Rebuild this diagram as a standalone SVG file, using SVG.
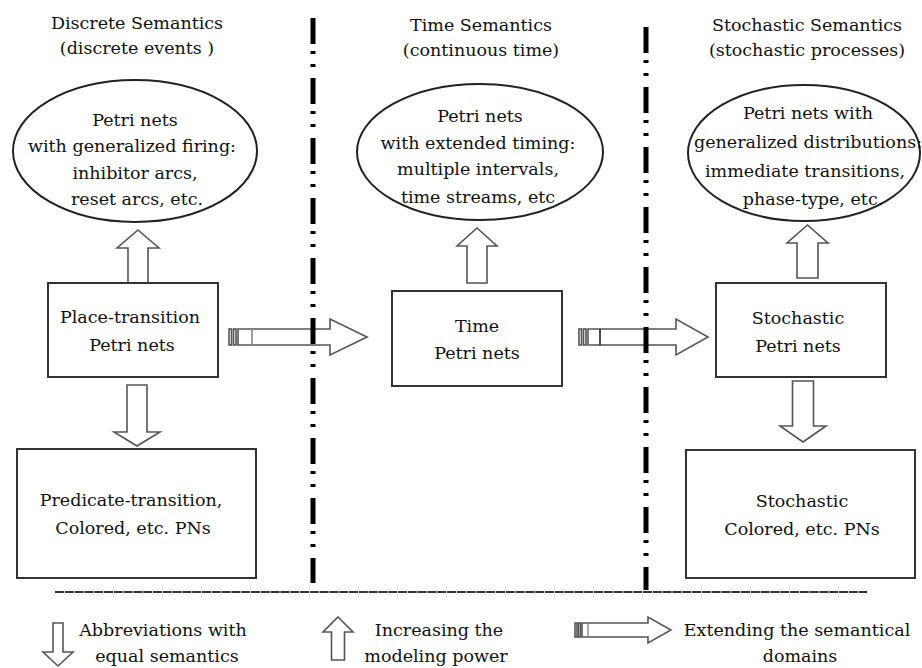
<svg xmlns="http://www.w3.org/2000/svg" width="922" height="668" viewBox="0 0 922 668">
<style>
text{font-family:"DejaVu Serif","Liberation Serif",serif;font-size:17.5px;fill:#111;text-anchor:middle}
.box{fill:#fff;stroke:#333;stroke-width:2}
.ell{fill:#fff;stroke:#222;stroke-width:2}
.blk{fill:#fff;stroke:#555;stroke-width:1.6;stroke-linejoin:miter}
.sep{stroke:#000;stroke-width:5;stroke-dasharray:26 7 3 10 3 11;fill:none}
</style>
<rect width="922" height="668" fill="#fff"/>

<g id="headers">
<text x="137" y="29">Discrete Semantics</text>
<text x="137" y="54">(discrete events )</text>
<text x="481" y="31">Time Semantics</text>
<text x="481" y="56">(continuous time)</text>
<text x="807" y="31">Stochastic Semantics</text>
<text x="807" y="56">(stochastic processes)</text>
</g>

<g id="connectors">
<path class="blk" d="M138,230 L159,248 L148,248 L148,283 L128,283 L128,248 L117,248 Z"/>
<path class="blk" d="M477,228 L497,246 L487,246 L487,283 L467,283 L467,246 L457,246 Z"/>
<path class="blk" d="M807.5,225 L828,243 L818,243 L818,278 L797,278 L797,243 L787,243 Z"/>
<path class="blk" d="M137,446 L160,432 L147,432 L147,385 L127,385 L127,432 L114,432 Z"/>
<path class="blk" d="M803,442 L826,426 L813.5,426 L813.5,381 L792.5,381 L792.5,426 L780,426 Z"/>
<g id="extend1">
<rect class="blk" x="229" y="329" width="2.5" height="16"/>
<rect class="blk" x="233.5" y="329" width="2.5" height="16"/>
<path class="blk" d="M238,329 L330,329 L330,319 L367,337 L330,355 L330,345 L238,345 Z"/>
<line x1="252" y1="329" x2="252" y2="345" stroke="#888" stroke-width="1.6"/>
</g>
<g id="extend2">
<rect class="blk" x="579" y="329" width="2.5" height="16"/>
<rect class="blk" x="583.5" y="329" width="2.5" height="16"/>
<path class="blk" d="M588,329 L676,329 L676,319 L708,337 L676,355 L676,345 L588,345 Z"/>
<line x1="600" y1="329" x2="600" y2="345" stroke="#222" stroke-width="1.6"/>
</g>
</g>

<g id="n-ellipse-discrete">
<ellipse class="ell" cx="135" cy="151" rx="122" ry="71"/>
<text x="135" y="126">Petri nets</text>
<text x="132" y="152">with generalized firing:</text>
<text x="135" y="179">inhibitor arcs,</text>
<text x="137" y="205">reset arcs, etc.</text>
</g>
<g id="n-ellipse-time">
<ellipse class="ell" cx="480" cy="152" rx="123" ry="68"/>
<text x="480" y="122">Petri nets</text>
<text x="478" y="149">with extended timing:</text>
<text x="478" y="175">multiple intervals,</text>
<text x="478" y="203">time streams, etc</text>
</g>
<g id="n-ellipse-stoch">
<ellipse class="ell" cx="804" cy="153" rx="116" ry="68"/>
<text x="808" y="119">Petri nets with</text>
<text x="808" y="148">generalized distributions:</text>
<text x="805" y="177">immediate transitions,</text>
<text x="813" y="205">phase-type, etc.</text>
</g>

<g id="n-pt">
<rect class="box" x="48" y="283" width="170" height="94"/>
<text x="130" y="323">Place-transition</text>
<text x="132" y="351">Petri nets</text>
</g>
<g id="n-time">
<rect class="box" x="392" y="291" width="170" height="95"/>
<text x="477" y="332">Time</text>
<text x="477" y="359">Petri nets</text>
</g>
<g id="n-stoch">
<rect class="box" x="716" y="283" width="170" height="94"/>
<text x="798" y="324">Stochastic</text>
<text x="798" y="352">Petri nets</text>
</g>
<g id="n-pred">
<rect class="box" x="17" y="449" width="239" height="129"/>
<text x="131" y="506">Predicate-transition,</text>
<text x="133" y="534">Colored, etc. PNs</text>
</g>
<g id="n-stochcol">
<rect class="box" x="686" y="450" width="229" height="128"/>
<text x="802" y="507">Stochastic</text>
<text x="802" y="535">Colored, etc. PNs</text>
</g>

<g id="separators">
<line class="sep" x1="313" y1="18" x2="313" y2="583"/>
<line class="sep" x1="646" y1="27" x2="646" y2="590"/>
<line x1="55" y1="592" x2="867" y2="592" stroke="#333" stroke-width="2.2" stroke-dasharray="9 0.8"/>
</g>

<g id="legend">
<path class="blk" d="M58,666 L73,652 L63,652 L63,623 L53,623 L53,652 L43,652 Z"/>
<text x="163" y="636">Abbreviations with</text>
<text x="167" y="662">equal semantics</text>
<path class="blk" d="M338,617 L353,632 L344.5,632 L344.5,660 L331.5,660 L331.5,632 L323,632 Z"/>
<text x="439" y="636">Increasing the</text>
<text x="436" y="662">modeling power</text>
<rect class="blk" x="575" y="623" width="2" height="14"/>
<rect class="blk" x="578.5" y="623" width="2" height="14"/>
<path class="blk" d="M582,623 L648,623 L648,617 L671,630 L648,643 L648,637 L582,637 Z"/>
<line x1="588" y1="623" x2="588" y2="637" stroke="#888" stroke-width="1.4"/>
<text x="797" y="636">Extending the semantical</text>
<text x="800" y="662">domains</text>
</g>
</svg>
